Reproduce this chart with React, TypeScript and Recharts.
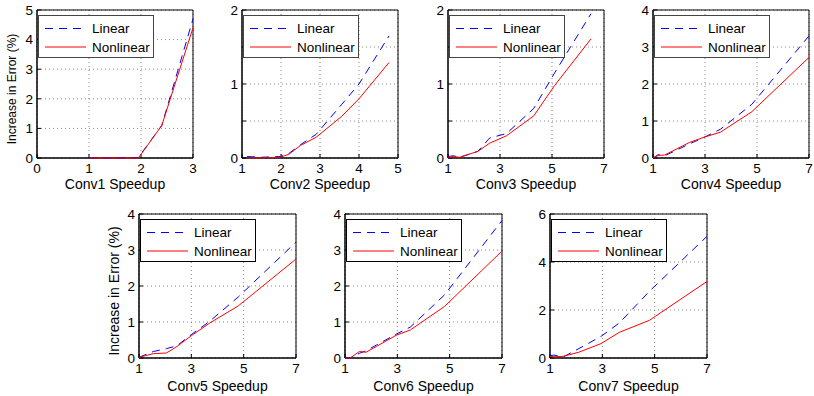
import { LineChart, Line, XAxis, YAxis, CartesianGrid, Legend, ReferenceArea } from "recharts"

const FONT = '"Liberation Sans", Arial, Helvetica, sans-serif'
const BLUE = "#0000ff"
const RED = "#ff0000"
const DASH = "8 6"

// one set per layer
const conv1Speedup = [1, 1.5, 1.95, 2.4, 3]
const conv1Linear = [0, 0, 0.02, 1.1, 4.7]
const conv1Nonlinear = [0, 0, 0, 1.1, 4.4]

const conv2Speedup = [1.13, 1.5, 1.98, 2.2, 2.5, 2.9, 3.55, 4.0, 4.77]
const conv2Linear = [0.02, 0.01, 0.02, 0.06, 0.18, 0.32, 0.72, 1.0, 1.65]
const conv2Nonlinear = [0, 0, 0.01, 0.05, 0.17, 0.28, 0.56, 0.8, 1.29]

const conv3Speedup = [1, 1.2, 1.45, 2.15, 2.6, 3.25, 4.3, 5.1, 6.5]
const conv3Linear = [0.02, 0.03, 0.01, 0.09, 0.27, 0.33, 0.67, 1.15, 1.95]
const conv3Nonlinear = [0, 0.02, 0.01, 0.09, 0.2, 0.3, 0.57, 0.98, 1.61]

const conv4Speedup = [1, 1.2, 1.45, 2.4, 3, 3.6, 4.8, 7]
const conv4Linear = [0, 0.09, 0.06, 0.38, 0.57, 0.78, 1.45, 3.3]
const conv4Nonlinear = [0, 0.07, 0.08, 0.42, 0.57, 0.7, 1.25, 2.72]

const conv5Speedup = [1, 1.55, 2.05, 2.45, 3.0, 3.7, 4.8, 7]
const conv5Linear = [0.02, 0.18, 0.26, 0.34, 0.65, 1.02, 1.7, 3.22]
const conv5Nonlinear = [0.02, 0.12, 0.14, 0.32, 0.62, 0.97, 1.45, 2.75]

const conv6Speedup = [1, 1.2, 1.55, 1.8, 2.2, 2.95, 3.5, 4.8, 7]
const conv6Linear = [0, 0, 0.13, 0.2, 0.36, 0.66, 0.86, 1.75, 3.82]
const conv6Nonlinear = [0, 0, 0.18, 0.16, 0.32, 0.63, 0.78, 1.43, 2.97]

const conv7Speedup = [1, 1.15, 1.5, 2.1, 2.95, 3.65, 4.8, 7]
const conv7Linear = [0.1, 0.12, 0.04, 0.39, 0.9, 1.46, 2.78, 5.07]
const conv7Nonlinear = [0.07, 0.05, 0.07, 0.24, 0.6, 1.07, 1.57, 3.19]

const ticks0to3 = [0, 1, 2, 3]
const ticks1to5 = [1, 2, 3, 4, 5]
const ticksOdd1to7 = [1, 3, 5, 7]
const ticks0to5 = [0, 1, 2, 3, 4, 5]
const ticksHalf0to2 = [0, 0.5, 1, 1.5, 2]
const ticks0to4 = [0, 1, 2, 3, 4]
const ticksEven0to6 = [0, 2, 4, 6]

const Y_LABEL = "Increase in Error (%)"

// chart margins around the plot box
const ML = 37
const MT = 8
const MR = 6

type PanelProps = {
  left: number
  top: number
  width: number
  height: number
  speedup: number[]
  linear: number[]
  nonlinear: number[]
  xDomain: [number, number]
  xTicks: number[]
  yDomain: [number, number]
  yTicks: number[]
  xLabel: string
  xLabelGap: number
  yLabel?: string
  yLabelX?: number
  yLabelSize?: number
  legendBorder: string
  legendBorderWidth: number
}

const intOnly = (v: number) => (Number.isInteger(v) ? String(v) : "")

function Panel(p: PanelProps) {
  const data = p.speedup.map((s, i) => ({ speedup: s, linear: p.linear[i], nonlinear: p.nonlinear[i] }))
  const xh = p.xLabelGap + 5

  const renderLegend = (props: any) => (
    <div
      style={{
        boxSizing: "border-box",
        width: 116,
        height: 43,
        border: `${p.legendBorderWidth}px solid ${p.legendBorder}`,
        background: "#fff",
      }}
    >
      <svg width={114} height={41} style={{ display: "block" }}>
        {(props.payload || []).map((entry: any, i: number) => {
          const cy = 12.5 + i * 18.5
          const dash = entry.payload?.strokeDasharray
          return (
            <g key={entry.value}>
              <line x1={6} x2={47} y1={cy} y2={cy} stroke={entry.color} strokeDasharray={dash} />
              <text x={53} y={cy + 4.8} fontSize={13.5} fill="#000" fontFamily={FONT}>
                {entry.value}
              </text>
            </g>
          )
        })}
      </svg>
    </div>
  )

  return (
    <div style={{ position: "absolute", left: p.left - ML, top: p.top - MT }}>
      <LineChart
        width={ML + p.width + MR}
        height={MT + p.height + xh}
        data={data}
        margin={{ top: MT, right: MR, left: 0, bottom: 0 }}
        style={{ fontFamily: FONT }}
      >
        <CartesianGrid stroke="#888" strokeDasharray="1 3" />
        <XAxis
          dataKey="speedup"
          type="number"
          domain={p.xDomain}
          ticks={p.xTicks}
          interval={0}
          height={xh}
          axisLine={{ stroke: "#000" }}
          tickLine={{ stroke: "#000" }}
          tickSize={-4}
          tickMargin={9}
          tick={{ fill: "#000", fontSize: 13.5 }}
          label={{ value: p.xLabel, position: "insideBottom", offset: 5, fill: "#000", fontSize: 14 }}
        />
        <YAxis
          type="number"
          domain={p.yDomain}
          ticks={p.yTicks}
          interval={0}
          width={ML}
          axisLine={{ stroke: "#000" }}
          tickLine={{ stroke: "#000" }}
          tickSize={-4}
          tickMargin={8}
          tickFormatter={intOnly}
          tick={{ fill: "#000", fontSize: 13.5 }}
          label={
            p.yLabel
              ? {
                  value: p.yLabel,
                  angle: -90,
                  position: "insideLeft",
                  offset: p.yLabelX,
                  dy: 5,
                  fill: "#000",
                  fontSize: p.yLabelSize,
                  style: { textAnchor: "middle" },
                }
              : undefined
          }
        />
        <ReferenceArea
          x1={p.xDomain[0]}
          x2={p.xDomain[1]}
          y1={p.yDomain[0]}
          y2={p.yDomain[1]}
          fill="none"
          fillOpacity={0}
          stroke="#000"
          ifOverflow="visible"
        />
        <Legend
          layout="vertical"
          align="center"
          verticalAlign="middle"
          content={renderLegend}
          wrapperStyle={{ position: "absolute", left: ML + 1, top: MT + 5, width: 116, height: 43 }}
        />
        <Line
          type="linear"
          dataKey="linear"
          name="Linear"
          stroke={BLUE}
          strokeDasharray={DASH}
          strokeWidth={1}
          dot={false}
          zIndex={700}
          isAnimationActive={false}
        />
        <Line
          type="linear"
          dataKey="nonlinear"
          name="Nonlinear"
          stroke={RED}
          strokeWidth={1}
          dot={false}
          zIndex={710}
          isAnimationActive={false}
        />
      </LineChart>
    </div>
  )
}

export default function App() {
  const topRow = { top: 10, width: 156, height: 148, xLabelGap: 31, legendBorder: "#444", legendBorderWidth: 1.5 }
  const bottomRow = { top: 214, width: 157, height: 144, xLabelGap: 33, legendBorder: "#000", legendBorderWidth: 1 }

  return (
    <div
      style={{
        position: "absolute",
        left: 0,
        top: 0,
        width: 814,
        height: 396,
        background: "#fff",
        fontFamily: FONT,
        overflow: "hidden",
      }}
    >
      <Panel
        {...topRow}
        left={37}
        speedup={conv1Speedup}
        linear={conv1Linear}
        nonlinear={conv1Nonlinear}
        xDomain={[0, 3]}
        xTicks={ticks0to3}
        yDomain={[0, 5]}
        yTicks={ticks0to5}
        xLabel="Conv1 Speedup"
        yLabel={Y_LABEL}
        yLabelX={11.5}
        yLabelSize={12}
      />
      <Panel
        {...topRow}
        left={242}
        speedup={conv2Speedup}
        linear={conv2Linear}
        nonlinear={conv2Nonlinear}
        xDomain={[1, 5]}
        xTicks={ticks1to5}
        yDomain={[0, 2]}
        yTicks={ticksHalf0to2}
        xLabel="Conv2 Speedup"
      />
      <Panel
        {...topRow}
        left={448}
        speedup={conv3Speedup}
        linear={conv3Linear}
        nonlinear={conv3Nonlinear}
        xDomain={[1, 7]}
        xTicks={ticksOdd1to7}
        yDomain={[0, 2]}
        yTicks={ticksHalf0to2}
        xLabel="Conv3 Speedup"
      />
      <Panel
        {...topRow}
        left={653}
        speedup={conv4Speedup}
        linear={conv4Linear}
        nonlinear={conv4Nonlinear}
        xDomain={[1, 7]}
        xTicks={ticksOdd1to7}
        yDomain={[0, 4]}
        yTicks={ticks0to4}
        xLabel="Conv4 Speedup"
      />
      <Panel
        {...bottomRow}
        left={139}
        speedup={conv5Speedup}
        linear={conv5Linear}
        nonlinear={conv5Nonlinear}
        xDomain={[1, 7]}
        xTicks={ticksOdd1to7}
        yDomain={[0, 4]}
        yTicks={ticks0to4}
        xLabel="Conv5 Speedup"
        yLabel={Y_LABEL}
        yLabelX={12}
        yLabelSize={14}
      />
      <Panel
        {...bottomRow}
        left={345}
        speedup={conv6Speedup}
        linear={conv6Linear}
        nonlinear={conv6Nonlinear}
        xDomain={[1, 7]}
        xTicks={ticksOdd1to7}
        yDomain={[0, 4]}
        yTicks={ticks0to4}
        xLabel="Conv6 Speedup"
      />
      <Panel
        {...bottomRow}
        left={550}
        speedup={conv7Speedup}
        linear={conv7Linear}
        nonlinear={conv7Nonlinear}
        xDomain={[1, 7]}
        xTicks={ticksOdd1to7}
        yDomain={[0, 6]}
        yTicks={ticksEven0to6}
        xLabel="Conv7 Speedup"
      />
    </div>
  )
}
